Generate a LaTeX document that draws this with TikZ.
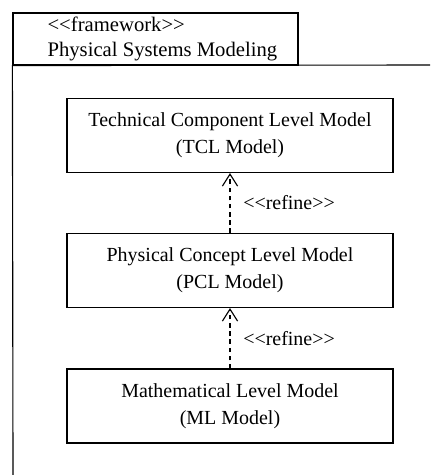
\documentclass[tikz,border=0pt]{standalone}
\usepackage{fontspec}
\setmainfont{Liberation Serif}
\usetikzlibrary{arrows.meta, positioning, calc}

\begin{document}
\begin{tikzpicture}[
    x=0.025cm, y=-0.025cm,
    line width=0.8pt,
    >={Straight Barb[length=0.3cm, width=0.38cm]},
    level/.style={draw, minimum width=8.15cm, minimum height=1.85cm, align=center,
        font=\fontsize{14.2}{19.2}\selectfont},
    refine/.style={->, dash pattern=on 3.2pt off 2.6pt},
    stereo/.style={font=\fontsize{14.2}{19.2}\selectfont}
]
\useasboundingbox (0, 0) rectangle (430, 475);

% package frame
\node (Tab) at (155.5, 39) [draw, minimum width=7.125cm, minimum height=1.3cm] {};
\node (TabText) at (47, 39) [anchor=west, inner xsep=0pt, align=left,
    font=\fontsize{14.7}{17.8}\selectfont] {{<}{<}framework{>}{>}\\Physical Systems Modeling};
\draw (13, 475) -- (Tab.south west) -- (430, 65);

\node (TCL) at (230, 135.5) [level] {Technical Component Level Model\\(TCL Model)};
\node (PCL) at (230, 270.5) [level] {Physical Concept Level Model\\(PCL Model)};
\node (ML) at (230, 406) [level] {Mathematical Level Model\\(ML Model)};

\draw[refine] (PCL) -- node[right=0.2cm, stereo] {{<}{<}refine{>}{>}} (TCL);
\draw[refine] (ML) -- node[right=0.2cm, stereo] {{<}{<}refine{>}{>}} (PCL);

\end{tikzpicture}
\end{document}
